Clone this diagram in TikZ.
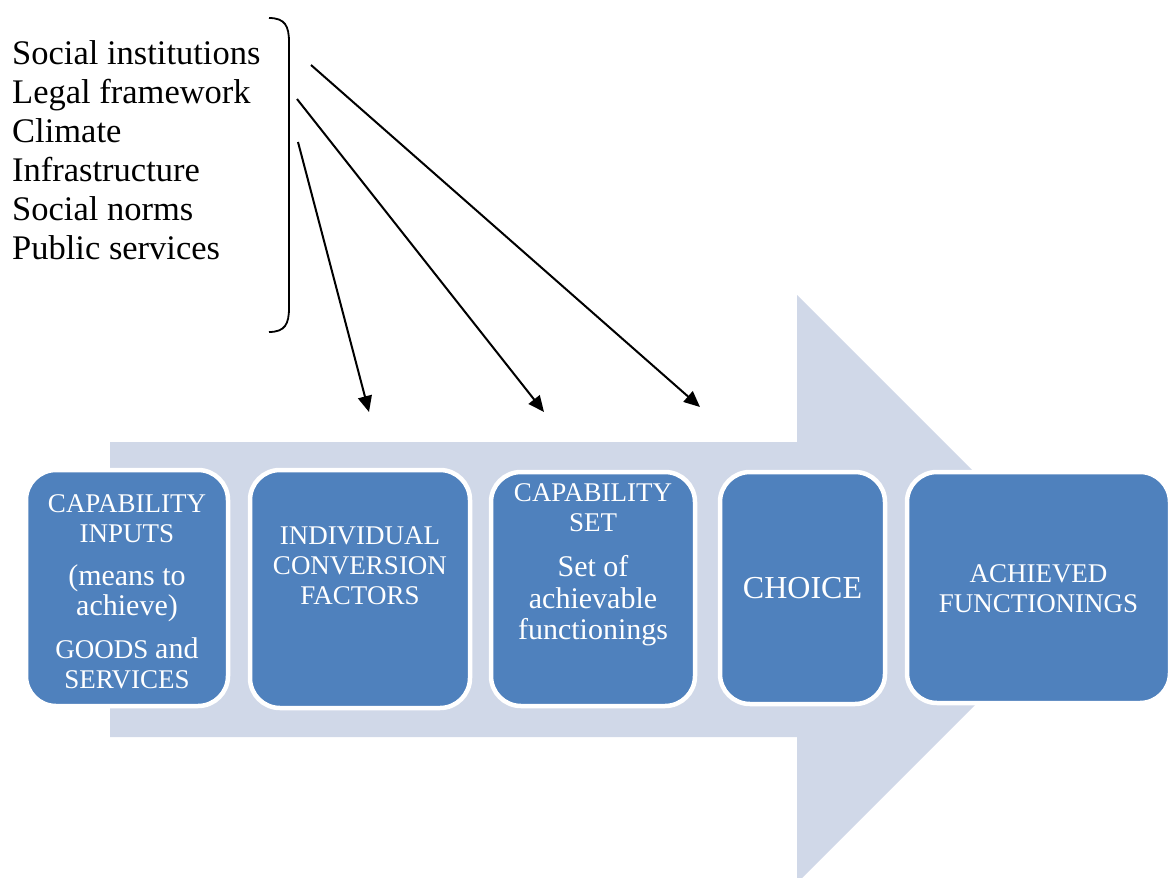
\documentclass[tikz,border=0pt]{standalone}
\usepackage{fontspec}
\setmainfont{Liberation Serif}
\usetikzlibrary{arrows.meta}
\definecolor{boxblue}{HTML}{4F81BD}
\definecolor{arrowgray}{HTML}{D0D8E8}
\newcommand{\lc}[1]{{\fontsize{30}{30}\selectfont #1}}
\begin{document}
\begin{tikzpicture}[x=1pt,y=-1pt,
  stagebox/.style={draw=white, line width=4.5pt, fill=boxblue, rounded corners=30pt, inner sep=0pt},
  boxtext/.style={text=white, align=center, inner sep=0pt, font=\fontsize{27}{30}\selectfont},
  conn/.style={line width=2pt, -{Triangle[length=16pt,width=14pt]}},
  listtext/.style={align=left, inner sep=0pt, anchor=north west, font=\fontsize{34.5}{39}\selectfont}
]
\useasboundingbox (0,0) rectangle (1168,878);
\clip (0,0) rectangle (1168,878);
% big background arrow
\fill[arrowgray] (110,442) -- (797,442) -- (797,295) -- (1091,589) -- (797,883) -- (797,737) -- (110,737) -- cycle;

% stage boxes
\node[stagebox, minimum width=202pt, minimum height=236pt] (b1) at (127,588) {};
\node[stagebox, minimum width=220pt, minimum height=238pt] (b2) at (360,589) {};
\node[stagebox, minimum width=204pt, minimum height=234pt] (b3) at (593,589) {};
\node[stagebox, minimum width=165pt, minimum height=232pt] (b4) at (802.5,588) {};
\node[stagebox, minimum width=263pt, minimum height=231pt] (b5) at (1038.5,587.5) {};

\node[boxtext] (t1) at ([yshift=-4pt]b1.center) {CAPABILITY\\INPUTS\\[13pt]\lc{(means to}\\\lc{achieve)}\\[13pt]GOODS \lc{and}\\SERVICES};
\node[boxtext] (t2) at ([yshift=23pt]b2.center) {INDIVIDUAL\\CONVERSION\\FACTORS};
\node[boxtext] (t3) at ([yshift=24pt]b3.center) {CAPABILITY\\SET\\[15pt]\lc{Set of}\\[2pt]\lc{achievable}\\[1pt]\lc{functionings}};
\node[boxtext, font=\fontsize{32}{36}\selectfont] (t4) at (b4.center) {CHOICE};
\node[boxtext] (t5) at ([yshift=-1pt]b5.center) {ACHIEVED\\FUNCTIONINGS};

% list of conversion factors
\node[listtext] (factors) at (12,40) {Social institutions\\Legal framework\\Climate\\Infrastructure\\Social norms\\Public services};

% bracket
\draw[line width=1.8pt] (269,18) .. controls (285,18) and (289,26) .. (289,42) -- (289,308) .. controls (289,324) and (285,332) .. (269,332);

% arrows
\coordinate (s1) at (298,142);
\coordinate (e1) at (369,412);
\coordinate (s2) at (297,99);
\coordinate (e2) at (544,412);
\coordinate (s3) at (311,65);
\coordinate (e3) at (700,407);
\draw[conn] (s1) -- (e1);
\draw[conn] (s2) -- (e2);
\draw[conn] (s3) -- (e3);
\end{tikzpicture}
\end{document}
